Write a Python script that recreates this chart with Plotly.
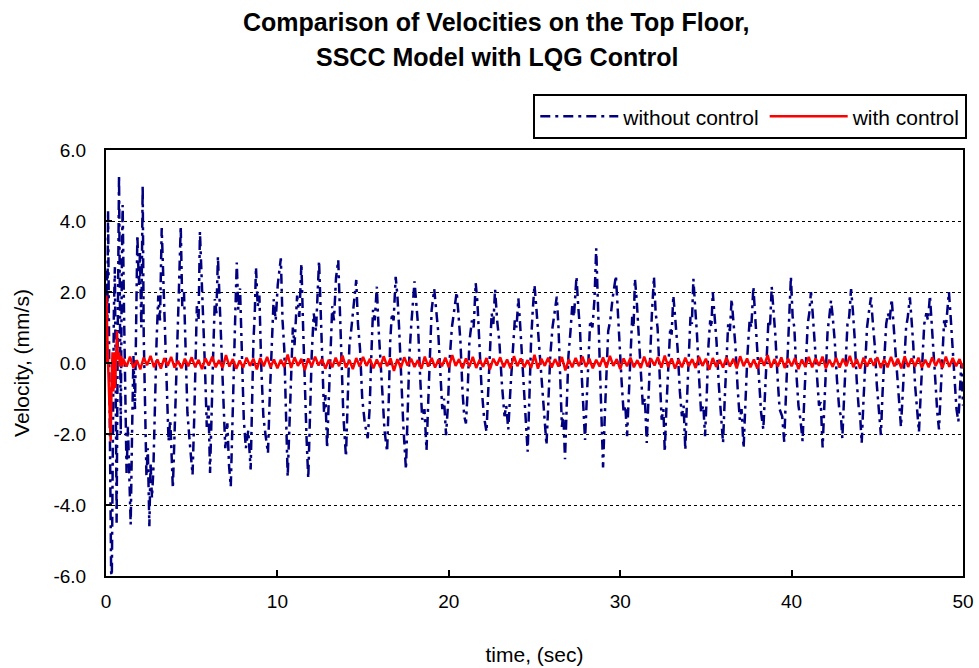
import numpy as np
import plotly.graph_objects as go

# Top-floor velocity (mm/s) without control: turning points [time (s), velocity]
without_0_5 = [
    [0.00, 0.0], [0.04, 2.6], [0.08, 1.2], [0.12, 4.3], [0.18, 0.5], [0.24, -3.8],
    [0.30, -5.9], [0.34, -6.0], [0.40, -2.0], [0.46, 1.5], [0.52, 2.7], [0.57, -1.0],
    [0.62, -4.5], [0.68, 0.5], [0.76, 5.3], [0.82, 1.0], [0.86, -2.0], [0.92, 2.5],
    [0.97, 4.45], [1.05, 1.5], [1.12, -1.5], [1.20, -3.1], [1.28, -1.8], [1.36, -3.6],
    [1.44, -4.55], [1.52, -2.0], [1.60, 0.2], [1.69, -1.3], [1.76, 1.8], [1.83, 3.6],
    [1.92, 2.2], [1.98, 3.1], [2.06, 1.0], [2.14, 5.0], [2.20, 0.8], [2.28, -1.6],
    [2.36, -3.2], [2.44, -2.4], [2.53, -4.6], [2.60, -2.8], [2.68, -3.8], [2.76, -3.06],
    [2.85, -1.2], [2.95, 0.6], [3.05, 1.9], [3.15, 1.2], [3.25, 3.8], [3.35, 2.2],
    [3.45, 1.0], [3.55, -0.6], [3.65, -2.2], [3.75, -1.6], [3.90, -3.53], [4.00, -2.0],
    [4.08, -0.5], [4.15, 0.8], [4.25, 2.0], [4.36, 3.85], [4.45, 1.6], [4.55, 2.0],
    [4.65, 0.2], [4.75, -1.4], [4.88, -2.2],
]
without_5_10 = [
    [5.05, -3.15], [5.15, -1.5], [5.22, 0.3], [5.30, 1.6], [5.40, 1.2], [5.48, 3.7],
    [5.58, 2.4], [5.68, 1.3], [5.78, -0.2], [5.88, -1.8], [5.98, -1.2], [6.07, -3.1],
    [6.17, -1.6], [6.25, 0.2], [6.35, 1.8], [6.44, 1.4], [6.53, 3.0], [6.62, 1.9],
    [6.72, 0.9], [6.84, -0.8], [6.96, -2.4], [7.08, -1.7], [7.18, -2.9], [7.28, -3.48],
    [7.38, -1.4], [7.46, 0.4], [7.55, 1.5], [7.63, 2.83], [7.72, 1.5], [7.82, 2.1],
    [7.92, 0.1], [8.04, -1.6], [8.16, -2.4], [8.30, -1.9], [8.44, -3.0], [8.52, -1.2],
    [8.60, 0.6], [8.68, 1.4], [8.75, 2.7], [8.85, 1.6], [8.95, 1.9], [9.05, 0.0],
    [9.18, -1.5], [9.30, -2.0], [9.45, -2.54], [9.55, -1.0], [9.65, 0.5], [9.78, 1.8],
    [9.90, 1.2],
]
without_10_20 = [
    [10.02, 2.2], [10.2, 2.95], [10.3, 1.2], [10.4, 0.4], [10.5, -1.6], [10.6, -3.2],
    [10.7, -1.8], [10.8, -0.4], [10.9, 1.0], [11.0, 0.5], [11.15, 1.9], [11.28, 1.3],
    [11.4, 2.8], [11.5, 1.0], [11.6, -0.8], [11.7, -2.1], [11.8, -3.25], [11.9, -1.2],
    [12.0, 0.2], [12.12, 1.4], [12.25, 0.9], [12.43, 2.88], [12.52, 1.6], [12.62, 0.3],
    [12.72, -1.4], [12.8, -0.9], [12.9, -2.4], [13.0, -1.0], [13.1, 0.4], [13.2, 1.6],
    [13.3, 1.2], [13.42, 2.4], [13.55, 2.9], [13.65, 1.4], [13.75, 0.2], [13.85, -1.5],
    [14.0, -2.64], [14.1, -1.2], [14.2, 0.5], [14.3, 0.9], [14.45, 1.6], [14.6, 2.34],
    [14.7, 1.1], [14.82, 0.4], [14.95, -1.0], [15.1, -1.7], [15.27, -2.12], [15.38, -1.3],
    [15.48, 0.2], [15.58, 1.5], [15.68, 1.2], [15.8, 2.15], [15.9, 1.0], [16.0, 0.3],
    [16.12, -0.8], [16.25, -1.9], [16.4, -2.5], [16.5, -1.0], [16.58, 0.6], [16.68, 1.4],
    [16.78, 1.2], [16.9, 2.43], [17.0, 1.9], [17.1, 1.0], [17.22, -0.6], [17.35, -1.8],
    [17.5, -3.0], [17.6, -1.4], [17.7, 0.2], [17.8, 1.0], [17.9, 1.6], [18.0, 2.3],
    [18.1, 1.7], [18.2, 1.1], [18.32, -0.3], [18.45, -1.6], [18.58, -1.3], [18.7, -2.45],
    [18.8, -1.1], [18.9, 0.4], [19.0, 1.5], [19.15, 2.08], [19.25, 1.5], [19.38, 0.9],
    [19.5, -0.2], [19.62, -1.3], [19.72, -1.0], [19.84, -2.03], [19.95, -1.2],
]
without_20_30 = [
    [20.05, 0.1], [20.18, 1.0], [20.3, 1.5], [20.46, 2.0], [20.56, 1.4], [20.68, 0.6],
    [20.8, -0.8], [20.9, -1.5], [21.0, -1.7], [21.1, -0.8], [21.2, 0.6], [21.35, 1.2],
    [21.45, 1.0], [21.57, 2.25], [21.67, 1.7], [21.78, 0.7], [21.9, -0.6], [22.05, -1.5],
    [22.2, -1.94], [22.3, -0.8], [22.4, 0.5], [22.5, 1.4], [22.6, 1.1], [22.7, 2.08],
    [22.82, 1.2], [22.95, 0.6], [23.1, -0.6], [23.25, -1.5], [23.35, -1.2], [23.47, -1.87],
    [23.6, -0.7], [23.72, 0.4], [23.85, 1.2], [23.95, 1.0], [24.06, 1.82], [24.16, 1.1],
    [24.28, 0.2], [24.4, -1.0], [24.5, -1.6], [24.6, -2.5], [24.7, -1.0], [24.8, 0.6],
    [24.9, 1.5], [25.0, 2.2], [25.1, 1.6], [25.22, 0.8], [25.35, 0.0], [25.48, -1.1],
    [25.58, -1.6], [25.7, -2.31], [25.8, -1.2], [25.92, 0.2], [26.05, 1.0], [26.18, 1.4],
    [26.3, 1.87], [26.4, 1.0], [26.5, -0.5], [26.6, -1.8], [26.68, -1.4], [26.78, -2.71],
    [26.88, -1.2], [26.98, 0.2], [27.1, 0.9], [27.2, 1.6], [27.3, 1.3], [27.45, 2.43],
    [27.55, 1.6], [27.66, 0.9], [27.76, -0.4], [27.86, -1.4], [27.95, -2.17], [28.05, -1.0],
    [28.15, 0.3], [28.25, 1.2], [28.38, 1.0], [28.5, 1.8], [28.6, 3.23], [28.7, 1.5],
    [28.8, 0.3], [28.9, -1.2], [29.0, -2.94], [29.1, -1.5], [29.2, -0.2], [29.3, 0.9],
    [29.42, 1.2], [29.55, 1.8], [29.75, 2.46], [29.85, 1.5], [29.95, 0.7],
]
without_30_40 = [
    [30.08, -0.5], [30.2, -1.4], [30.3, -1.2], [30.4, -2.06], [30.5, -0.8], [30.6, 0.5],
    [30.7, 1.3], [30.78, 1.0], [30.86, 2.37], [30.96, 1.8], [31.08, 0.9], [31.2, -0.3],
    [31.32, -1.2], [31.44, -1.0], [31.55, -2.25], [31.65, -1.0], [31.75, 0.4], [31.85, 1.4],
    [31.97, 2.43], [32.07, 1.4], [32.18, 1.0], [32.3, -0.4], [32.42, -1.6], [32.52, -1.3],
    [32.6, -2.5], [32.7, -1.2], [32.82, 0.0], [32.92, 1.0], [33.0, 0.8], [33.1, 1.9],
    [33.22, 1.2], [33.35, 0.4], [33.48, -0.8], [33.6, -1.5], [33.7, -1.2], [33.8, -2.45],
    [33.9, -1.0], [34.0, 0.3], [34.1, 1.3], [34.18, 1.1], [34.27, 2.37], [34.37, 1.6],
    [34.48, 0.8], [34.6, -0.4], [34.72, -1.4], [34.85, -1.2], [34.95, -2.06], [35.05, -0.9],
    [35.15, 0.5], [35.25, 1.2], [35.32, 1.0], [35.4, 2.0], [35.5, 1.4], [35.62, 0.6],
    [35.75, -0.6], [35.88, -1.5], [36.0, -2.25], [36.1, -1.0], [36.2, 0.3], [36.3, 1.1],
    [36.4, 0.9], [36.5, 1.8], [36.6, 1.2], [36.72, 0.5], [36.85, -0.7], [36.98, -1.6],
    [37.08, -1.3], [37.2, -2.4], [37.3, -1.2], [37.42, 0.2], [37.55, 1.2], [37.65, 1.0],
    [37.77, 2.15], [37.87, 1.4], [37.98, 0.6], [38.1, -0.5], [38.22, -1.4], [38.35, -1.87],
    [38.45, -0.8], [38.55, 0.4], [38.65, 1.2], [38.74, 1.0], [38.84, 2.15], [38.94, 1.5],
    [39.05, 0.8], [39.18, -0.4], [39.3, -1.3], [39.45, -1.5], [39.57, -2.22], [39.67, -0.9],
    [39.77, 0.3], [39.86, 1.0], [39.96, 2.43],
]
without_40_50 = [
    [40.06, 1.3], [40.16, 1.0], [40.28, -0.3], [40.4, -1.2], [40.52, -1.6], [40.64, -2.2],
    [40.74, -1.0], [40.84, 0.3], [40.94, 1.1], [41.03, 1.4], [41.13, 2.0], [41.23, 1.4],
    [41.35, 0.5], [41.48, -0.6], [41.6, -1.2], [41.7, -1.1], [41.81, -2.38], [41.91, -1.2],
    [42.0, -0.2], [42.1, 0.9], [42.2, 1.3], [42.3, 1.76], [42.4, 1.3], [42.52, 0.6],
    [42.65, -0.5], [42.78, -1.3], [42.88, -1.5], [42.96, -2.12], [43.06, -1.0], [43.16, 0.2],
    [43.26, 1.1], [43.36, 1.3], [43.47, 2.08], [43.57, 1.5], [43.68, 0.7], [43.8, -0.5],
    [43.92, -1.3], [44.0, -1.5], [44.09, -2.25], [44.19, -1.1], [44.29, 0.1], [44.4, 1.0],
    [44.5, 1.4], [44.63, 1.85], [44.73, 1.2], [44.85, 0.5], [44.97, -0.6], [45.08, -1.3],
    [45.21, -2.03], [45.31, -0.8], [45.42, 0.3], [45.52, 1.1], [45.62, 1.4], [45.72, 1.2],
    [45.84, 1.8], [45.94, 1.1], [46.06, 0.4], [46.18, -0.6], [46.28, -1.2], [46.38, -1.8],
    [46.48, -0.9], [46.58, 0.2], [46.68, 1.0], [46.78, 1.3], [46.9, 1.85], [47.0, 1.2],
    [47.1, 0.5], [47.2, -0.6], [47.32, -1.3], [47.43, -1.94], [47.53, -0.9], [47.63, 0.3],
    [47.74, 1.1], [47.86, 1.4], [47.96, 1.2], [48.07, 1.9], [48.17, 1.2], [48.28, 0.5],
    [48.4, -0.6], [48.5, -1.4], [48.6, -1.87], [48.7, -0.8], [48.8, 0.3], [48.9, 1.2],
    [49.0, 1.0], [49.08, 1.5], [49.18, 2.0], [49.28, 1.3], [49.38, 0.5], [49.5, -0.6],
    [49.62, -1.3], [49.73, -1.65], [49.82, -0.5], [49.9, 0.0], [50.0, -1.2],
]

# Velocity with LQG control: start-up transient [time (s), velocity] ...
with_start = [
    [0.00, 0.0], [0.02, 1.9], [0.10, 0.3], [0.20, -0.9], [0.27, -2.2], [0.33, -0.5],
    [0.38, 0.3], [0.43, -0.8], [0.48, 0.3], [0.53, -0.7], [0.58, 0.4], [0.64, 0.9],
    [0.70, 0.1], [0.76, 0.3], [0.82, -0.1], [0.88, 0.2], [0.94, -0.1],
]
# ... then samples every 0.2 s from 1.0 s to 50.0 s
with_tail_t0 = 1.0
with_tail_dt = 0.2
with_tail_v = [
    0.12, -0.10, 0.18, -0.14, 0.08, -0.18, 0.15, -0.06, 0.20, -0.12,
    0.10, -0.16, 0.14, -0.08, 0.17, -0.13, 0.06, -0.15, 0.12, -0.09,
    0.16, -0.11, 0.09, -0.17, 0.13, -0.07, 0.18, -0.12, 0.08, -0.14,
    0.22, -0.10, 0.11, -0.16, 0.07, -0.13, 0.15, -0.08, 0.12, -0.18,
    0.14, -0.09, 0.17, -0.12, 0.10, -0.15, 0.09, -0.11, 0.24, -0.14,
    0.16, -0.08, 0.12, -0.20, 0.13, -0.10, 0.18, -0.07, 0.11, -0.16,
    0.09, -0.12, 0.15, -0.09, 0.21, -0.13, 0.08, -0.17, 0.14, -0.10,
    0.17, -0.08, 0.12, -0.15, 0.10, -0.12, 0.19, -0.09, 0.13, -0.22,
    0.11, -0.14, 0.16, -0.07, 0.12, -0.11, 0.08, -0.16, 0.18, -0.10,
    0.14, -0.13, 0.10, -0.09, 0.15, -0.12, 0.22, -0.08, 0.11, -0.15,
    0.13, -0.10, 0.17, -0.14, 0.09, -0.11, 0.14, -0.18, 0.12, -0.07,
    0.16, -0.12, 0.10, -0.15, 0.19, -0.09, 0.13, -0.12, 0.08, -0.14,
    0.23, -0.16, 0.12, -0.08, 0.15, -0.13, 0.11, -0.10, 0.17, -0.21,
    0.10, -0.12, 0.14, -0.09, 0.18, -0.11, 0.12, -0.15, 0.09, -0.10,
    0.16, -0.13, 0.20, -0.08, 0.11, -0.17, 0.13, -0.09, 0.15, -0.12,
    0.08, -0.14, 0.18, -0.10, 0.12, -0.07, 0.16, -0.13, 0.21, -0.11,
    0.13, -0.16, 0.10, -0.12, 0.15, -0.09, 0.11, -0.14, 0.17, -0.08,
    0.12, -0.19, 0.14, -0.11, 0.09, -0.13, 0.16, -0.10, 0.12, -0.15,
    0.19, -0.09, 0.13, -0.12, 0.10, -0.16, 0.15, -0.08, 0.22, -0.13,
    0.11, -0.10, 0.16, -0.14, 0.12, -0.09, 0.14, -0.17, 0.10, -0.11,
    0.17, -0.12, 0.13, -0.08, 0.18, -0.15, 0.09, -0.11, 0.14, -0.13,
    0.12, -0.09, 0.20, -0.12, 0.11, -0.16, 0.15, -0.10, 0.13, -0.08,
    0.16, -0.14, 0.10, -0.12, 0.17, -0.09, 0.12, -0.15, 0.19, -0.11,
    0.13, -0.10, 0.15, -0.13, 0.09, -0.12, 0.16, -0.08, 0.12, -0.14,
    0.18, -0.11, 0.14, -0.09, 0.11, -0.15,
]

y_ticks = [-6, -4, -2, 0, 2, 4, 6]
y_tick_text = ["-6.0", "-4.0", "-2.0", "0.0", "2.0", "4.0", "6.0"]
x_ticks = [0, 10, 20, 30, 40, 50]
title_lines = ["Comparison of Velocities on the Top Floor,", "SSCC Model with LQG Control"]

# assemble the series
without_pts = np.array(without_0_5 + without_5_10 + without_10_20
                       + without_20_30 + without_30_40 + without_40_50)
start = np.array(with_start)
tail_t = with_tail_t0 + with_tail_dt * np.arange(len(with_tail_v))
with_t = np.concatenate([start[:, 0], tail_t])
with_v = np.concatenate([start[:, 1], np.array(with_tail_v)])

FONT = "Arial, Liberation Sans, sans-serif"

fig = go.Figure()
fig.add_trace(go.Scatter(
    x=without_pts[:, 0], y=without_pts[:, 1], mode="lines", name="without control",
    line=dict(color="#000080", width=2.5, dash="10px,5px,3px,5px"),
))
fig.add_trace(go.Scatter(
    x=with_t, y=with_v, mode="lines", name="with control",
    line=dict(color="#ff0000", width=2.5),
))

# two-line bold title, one annotation per line
for text, ypos in zip(title_lines, [1.300, 1.218]):
    fig.add_annotation(
        text=f"<b>{text}</b>", xref="paper", yref="paper", x=0.456, y=ypos,
        xanchor="center", yanchor="middle", showarrow=False,
        font=dict(family=FONT, size=25, color="black"),
    )

fig.update_layout(
    width=979, height=668,
    margin=dict(l=106, r=16, t=150, b=92),
    paper_bgcolor="white", plot_bgcolor="white",
    font=dict(family=FONT, size=19, color="black"),
    legend=dict(
        orientation="h", x=1.005, xanchor="right", y=1.131, yanchor="top",
        bgcolor="white", bordercolor="black", borderwidth=2,
        font=dict(family=FONT, size=21, color="black"),
        itemwidth=78, tracegroupgap=0,
    ),
    showlegend=True,
)
fig.update_xaxes(
    range=[0, 50], tickvals=x_ticks, ticks="inside", ticklen=6, tickwidth=1.5,
    tickcolor="black", showline=True, linecolor="black", linewidth=2, mirror=True,
    showgrid=False, zeroline=False, ticklabelstandoff=7, automargin=False,
    title=dict(text="time, (sec)", font=dict(family=FONT, size=21), standoff=37),
    tickfont=dict(family=FONT, size=19),
)
fig.update_yaxes(
    range=[-6, 6], tickvals=y_ticks, ticktext=y_tick_text, ticks="inside", ticklen=6,
    tickwidth=1.5, tickcolor="black", showline=True, linecolor="black", linewidth=2,
    mirror=True, showgrid=True, gridcolor="black", gridwidth=1.2, griddash="dot",
    zeroline=False, ticklabelstandoff=14, automargin=False,
    title=dict(text="Velocity, (mm/s)", font=dict(family=FONT, size=21), standoff=18),
    tickfont=dict(family=FONT, size=19),
)

fig.write_html("out.html")
